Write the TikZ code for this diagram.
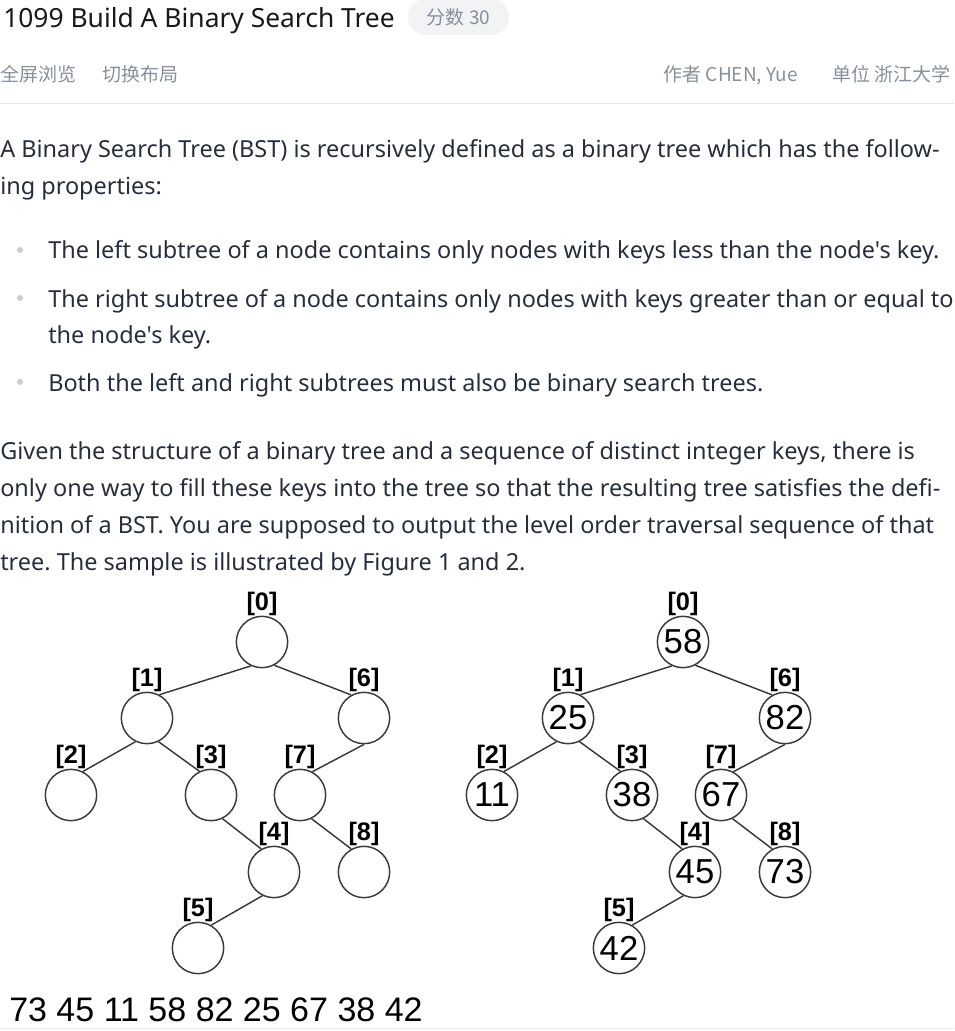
\documentclass[tikz,border=0pt]{standalone}
\usepackage{fontspec}
\setmainfont{Noto Sans}
\newfontfamily\uifont{Noto Sans}
\newfontfamily\cjkfont{Noto Sans CJK SC}
\newfontfamily\figfont{Liberation Sans}
\usetikzlibrary{positioning}
\frenchspacing
\definecolor{inkText}{HTML}{272E3B}
\definecolor{mutedText}{HTML}{86909C}
\definecolor{ruleGray}{HTML}{E5E6EB}
\definecolor{dotGray}{HTML}{C9CDD4}
\definecolor{pillGray}{HTML}{F2F3F5}
\definecolor{treeLine}{HTML}{3A3A3A}
\tikzset{
  heading/.style={anchor=base west,inner sep=0,text=black!90,font=\uifont\fontsize{19.8pt}{23pt}\selectfont},
  meta/.style={anchor=base west,inner sep=0,text=mutedText,font=\cjkfont\fontsize{14.25pt}{17pt}\selectfont},
  pill/.style={fill=pillGray,rounded corners=13.5pt,minimum width=75.75pt,minimum height=27pt,inner sep=0,text=mutedText,font=\cjkfont\fontsize{14.25pt}{17pt}\selectfont},
  textline/.style={anchor=base west,inner sep=0,text=inkText,font=\uifont\fontsize{17.6pt}{20pt}\selectfont},
  bulletdot/.style={circle,fill=dotGray,minimum size=4.5pt,inner sep=0},
  hrule/.style={draw=ruleGray,line width=0.75pt},
  keynode/.style={circle,draw=treeLine,line width=1.1pt,minimum size=38.5pt,inner sep=0,label distance=0.5pt,font=\figfont\fontsize{26pt}{28pt}\selectfont},
  idx/.style={inner sep=0,font=\figfont\bfseries\fontsize{19pt}{21pt}\selectfont},
  edge/.style={draw=treeLine,line width=1.1pt},
  seq/.style={anchor=base west,inner sep=0,font=\figfont\fontsize{25.5pt}{28pt}\selectfont}
}
\begin{document}
\begin{tikzpicture}[x=0.75pt,y=-0.75pt]
\useasboundingbox (0,0) rectangle (954,1031);
\node[heading] (title) at (3,28) {1099 Build A Binary Search Tree};
\node[pill] (score) at (458.5,17) {分数 30};
\node[meta] (fullscr) at (0,81) {全屏浏览};
\node[meta] (layout) at (102,81) {切换布局};
\node[meta,anchor=base east] (author) at (798,81) {作者 CHEN, Yue};
\node[meta,anchor=base east] (unit) at (951,81) {单位 浙江大学};
\draw[hrule] (0,103.5) -- (954,103.5);
\node[textline] (intro1) at (0,157) {A Binary Search Tree (BST) is recursively defined as a binary tree which has the follow-};
\node[textline] (intro2) at (0,194) {ing properties:};
\foreach \n/\y in {1/250,2/298,3/382}{\node[bulletdot] (dot\n) at (20,\y) {};}
\node[textline] (prop1) at (48,258) {The left subtree of a node contains only nodes with keys less than the node's key.};
\node[textline] (prop2) at (48,307) {The right subtree of a node contains only nodes with keys greater than or equal to};
\node[textline] (prop2b) at (48,343) {the node's key.};
\node[textline] (prop3) at (48,391) {Both the left and right subtrees must also be binary search trees.};
\foreach \n/\y/\t in {1/459/{Given the structure of a binary tree and a sequence of distinct integer keys, there is},
  2/496/{only one way to fill these keys into the tree so that the resulting tree satisfies the defi-},
  3/533/{nition of a BST. You are supposed to output the level order traversal sequence of that},
  4/570/{tree. The sample is illustrated by Figure 1 and 2.}}{\node[textline] (given\n) at (0,\y) {\t};}
\foreach \i/\x/\y/\k in {0/262/642/58,1/147/718/25,2/71/795/11,3/211/795/38,4/274/872/45,5/198/948/42,6/364/718/82,7/300/795/67,8/364/872/73}{
  \node[keynode,label={[idx]above:{[\i]}}] (a\i) at (\x,\y) {};
  \node[keynode,label={[idx]above:{[\i]}}] (b\i) at (\x+421,\y) {\k};
}
\foreach \p/\c/\s/\e in {0/1/245/62,0/6/298/119,1/2/244/63,1/3/296/116,6/7/270/62,3/4/296/119,7/8/296/119,4/5/244/60}{
  \draw[edge] (a\p.\s) -- (a\c.\e);
  \draw[edge] (b\p.\s) -- (b\c.\e);
}
\node[seq] (answer) at (9,1021) {73 45 11 58 82 25 67 38 42};
\draw[hrule] (0,1028) -- (954,1028);
\end{tikzpicture}
\end{document}
